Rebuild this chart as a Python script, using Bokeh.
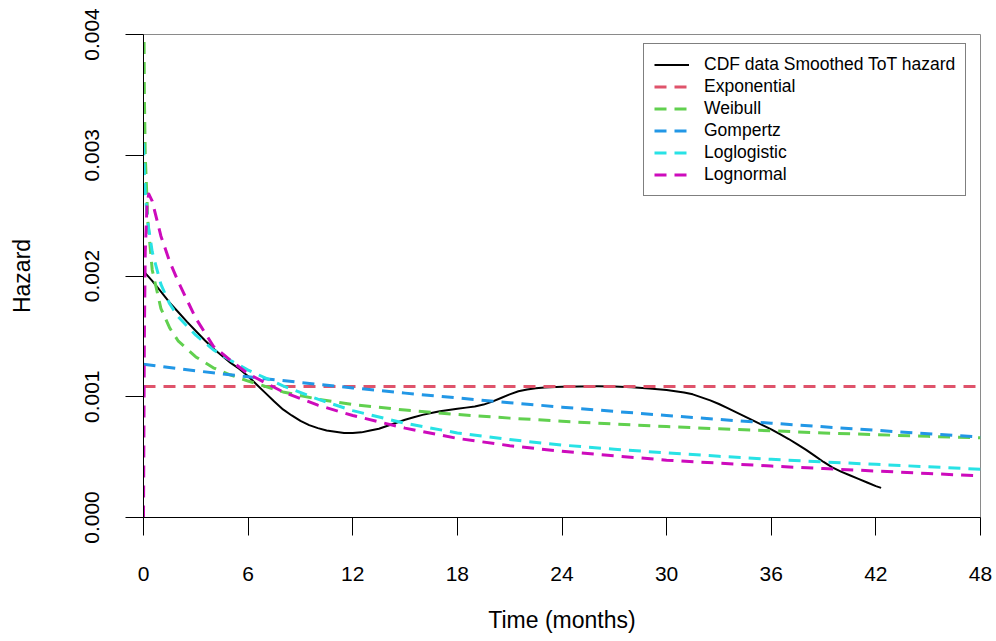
from bokeh.plotting import figure
from bokeh.models import Range1d, FixedTicker, PrintfTickFormatter, Legend, LegendItem
from bokeh.embed import file_html
from bokeh.resources import INLINE

# ---- data (hazard values in units of 1e-3 per month) ----
smooth_t = [0, 0.5, 1, 1.5, 2, 2.5, 3, 3.5, 4, 4.5, 5, 5.5, 6, 6.5, 7, 7.5, 8, 8.5, 9, 9.5,
            10, 10.5, 11, 11.5, 12, 12.5, 13, 13.5, 14, 14.5, 15, 15.5, 16, 16.5, 17, 17.5,
            18, 18.5, 19, 19.5, 20, 20.5, 21, 21.5, 22, 22.5, 23, 24, 25, 26, 27, 28, 29,
            30, 31, 31.5, 32, 32.5, 33, 33.5, 34, 34.5, 35, 35.5, 36, 36.5, 37, 37.5, 38,
            38.5, 39, 39.5, 40, 40.5, 41, 41.5, 42, 42.3]
smooth_h = [2.04, 1.96, 1.87, 1.78, 1.70, 1.62, 1.545, 1.47, 1.40, 1.34, 1.28, 1.23, 1.17,
            1.10, 1.03, 0.96, 0.895, 0.845, 0.80, 0.765, 0.74, 0.72, 0.71, 0.70, 0.70, 0.705,
            0.72, 0.735, 0.76, 0.785, 0.81, 0.83, 0.85, 0.865, 0.88, 0.89, 0.90, 0.91, 0.92,
            0.935, 0.96, 0.99, 1.02, 1.045, 1.06, 1.07, 1.077, 1.082, 1.085, 1.086, 1.085,
            1.078, 1.068, 1.055, 1.035, 1.02, 0.995, 0.97, 0.94, 0.905, 0.87, 0.835, 0.80,
            0.765, 0.73, 0.69, 0.65, 0.605, 0.56, 0.51, 0.46, 0.415, 0.38, 0.35, 0.32, 0.29,
            0.26, 0.245]

exp_t = [0, 48]
exp_h = [1.085, 1.085]

fit_t = [0.01, 0.05, 0.1, 0.25, 0.5, 1, 1.5, 2, 3, 4, 5, 6, 8, 10, 12, 15, 18, 21, 24, 27,
         30, 33, 36, 39, 42, 45, 48]
weibull_h = [4.6, 3.5, 3.0, 2.45, 2.05, 1.73, 1.57, 1.46, 1.33, 1.24, 1.18, 1.13, 1.04, 0.98,
             0.935, 0.89, 0.853, 0.823, 0.797, 0.774, 0.753, 0.735, 0.718, 0.70, 0.686,
             0.672, 0.66]
loglogistic_h = [3.1, 2.85, 2.68, 2.44, 2.2, 1.93, 1.77, 1.66, 1.51, 1.39, 1.30, 1.22, 1.09,
                 0.98, 0.885, 0.78, 0.70, 0.645, 0.60, 0.565, 0.535, 0.507, 0.482, 0.46,
                 0.44, 0.42, 0.40]

gomp_t = [0, 3, 6, 9, 12, 15, 18, 21, 24, 27, 30, 33, 36, 39, 42, 45, 48]
gompertz_h = [1.27, 1.215, 1.165, 1.118, 1.073, 1.03, 0.99, 0.951, 0.914, 0.879, 0.845,
              0.812, 0.781, 0.751, 0.722, 0.694, 0.667]

lnorm_t = [0, 0.05, 0.1, 0.2, 0.3, 0.5, 1, 1.5, 2, 3, 4, 5, 6, 8, 10, 12, 15, 18, 21, 24,
           27, 30, 33, 36, 39, 42, 45, 48]
lognormal_h = [0, 1.5, 2.2, 2.58, 2.68, 2.62, 2.33, 2.12, 1.95, 1.65, 1.42, 1.30, 1.19, 1.04,
               0.93, 0.845, 0.74, 0.655, 0.595, 0.548, 0.51, 0.475, 0.45, 0.426, 0.405,
               0.385, 0.364, 0.345]

x_ticks = [0, 6, 12, 18, 24, 30, 36, 42, 48]
y_ticks = [0.0, 0.001, 0.002, 0.003, 0.004]

labels = ["CDF data Smoothed ToT hazard", "Exponential", "Weibull", "Gompertz",
          "Loglogistic", "Lognormal"]
colors = ["#000000", "#DF536B", "#61D04F", "#2297E6", "#28E2E5", "#CD0BBC"]

def scale(vals):
    return [v / 1000.0 for v in vals]

FONT = "Liberation Sans"

p = figure(width=996, height=641, output_backend="svg", toolbar_location=None,
           x_range=Range1d(0, 48), y_range=Range1d(0, 0.004),
           min_border_left=143, min_border_right=16, min_border_top=34,
           min_border_bottom=124)

p.background_fill_color = "white"
p.border_fill_color = "white"
p.outline_line_color = "#8a8a8a"
p.outline_line_width = 1
p.xgrid.visible = False
p.ygrid.visible = False

series = [
    (smooth_t, smooth_h, None, 2),
    (exp_t, exp_h, "12 8", 3),
    (fit_t, weibull_h, "12 8", 3),
    (gomp_t, gompertz_h, "12 8", 3),
    (fit_t, loglogistic_h, "12 8", 3),
    (lnorm_t, lognormal_h, "12 8", 3),
]
items = []
for (xs, ys, dash, lw), lab, col in zip(series, labels, colors):
    kw = dict(line_color=col, line_width=lw, line_join="round")
    if dash:
        kw["line_dash"] = dash
    r = p.line(xs, scale(ys), **kw)
    items.append(LegendItem(label=lab, renderers=[r]))

# axes
for ax in (p.xaxis[0], p.yaxis[0]):
    ax.axis_line_color = "black"
    ax.axis_line_width = 1
    ax.major_tick_line_color = "black"
    ax.major_tick_in = 0
    ax.major_tick_out = 18
    ax.minor_tick_line_color = None
    ax.major_label_text_font = FONT
    ax.major_label_text_font_size = "21px"
    ax.major_label_text_color = "black"
    ax.axis_label_text_font = FONT
    ax.axis_label_text_font_size = "23px"
    ax.axis_label_text_font_style = "normal"
    ax.axis_label_text_color = "black"

p.xaxis.ticker = FixedTicker(ticks=x_ticks)
p.xaxis.axis_label = "Time (months)"
p.xaxis.major_label_standoff = 31
p.xaxis.axis_label_standoff = 23

p.yaxis.ticker = FixedTicker(ticks=y_ticks)
p.yaxis.formatter = PrintfTickFormatter(format="%.3f")
p.yaxis.major_label_orientation = "vertical"
p.yaxis.axis_label = "Hazard"
p.yaxis.major_label_standoff = 27
p.yaxis.axis_label_standoff = 47

legend = Legend(items=items, location=(500, 321), margin=0, padding=10, spacing=1,
                glyph_width=35, glyph_height=21, label_height=21, label_standoff=15,
                label_text_font=FONT, label_text_font_size="17.5px",
                label_text_color="black", border_line_color="black",
                border_line_width=1.5, background_fill_color="white",
                background_fill_alpha=1.0)
p.add_layout(legend, "center")

open("out.html", "w").write(file_html(p, INLINE))
